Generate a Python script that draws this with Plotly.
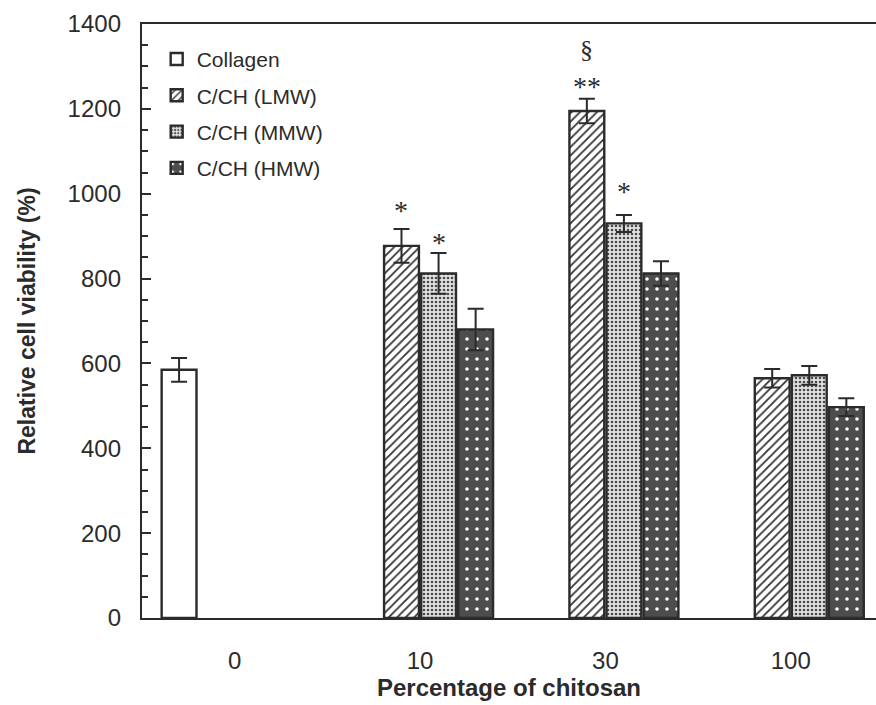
import plotly.graph_objects as go

# ---- data ----
categories = ["0", "10", "30", "100"]
collagen = [585, None, None, None]
collagen_err = [28, None, None, None]
lmw = [None, 877, 1195, 565]
lmw_err = [None, 40, 29, 22]
mmw = [None, 812, 930, 572]
mmw_err = [None, 48, 20, 22]
hmw = [None, 680, 812, 497]
hmw_err = [None, 49, 29, 21]

# significance marks: (category, series, text, height in y units)
sig_cat = ["10", "10", "30", "30", "30"]
sig_series = ["LMW", "MMW", "LMW", "LMW", "MMW"]
sig_text = ["*", "*", "**", "§", "*"]
sig_y = [960, 884, 1252, 1339, 1005]

ink = "#2b2b2b"
line_w = 2.4

fig = go.Figure()

def add_bar(name, vals, errs, pattern, color="white"):
    fig.add_trace(go.Bar(
        name=name, x=categories, y=vals,
        error_y=dict(type="data", array=errs, visible=True, color=ink,
                     thickness=2, width=8),
        marker=dict(color=color, line=dict(color=ink, width=line_w),
                    pattern=pattern),
        legendgroup=name,
    ))

add_bar("Collagen", collagen, collagen_err, None)
add_bar("C/CH (LMW)", lmw, lmw_err,
        dict(shape="/", fgcolor="#333333", bgcolor="white", size=6, solidity=0.3,
             fillmode="replace"))
add_bar("C/CH (MMW)", mmw, mmw_err,
        dict(shape=".", fgcolor="#4a4a4a", bgcolor="#e2e2e2", size=4, solidity=0.35,
             fillmode="replace"))
add_bar("C/CH (HMW)", hmw, hmw_err,
        dict(shape=".", fgcolor="white", bgcolor="#4d4d4d", size=10, solidity=0.1,
             fillmode="replace"))

slot = {"Collagen": -0.3, "LMW": -0.1, "MMW": 0.1, "HMW": 0.3}
for c, s, t, yv in zip(sig_cat, sig_series, sig_text, sig_y):
    fig.add_annotation(
        x=categories.index(c) + slot[s], y=yv, xref="x", yref="y",
        text=t, showarrow=False, yanchor="middle",
        font=dict(family="Liberation Serif", size=28 if t != "§" else 26, color=ink),
    )

fig.update_layout(
    width=876, height=705,
    margin=dict(l=142, r=0, t=24, b=87),
    paper_bgcolor="white", plot_bgcolor="white",
    barmode="group", bargap=0.2, bargroupgap=0.06,
    font=dict(family="Liberation Sans, Arial", color=ink),
    showlegend=True,
    legend=dict(x=0.02, y=0.975, xanchor="left", yanchor="top",
                bgcolor="rgba(0,0,0,0)", font=dict(size=21, color=ink),
                traceorder="grouped", tracegroupgap=6),
    xaxis=dict(
        type="category", range=[-0.5, 3.46],
        showline=True, linecolor=ink, linewidth=line_w, mirror=True,
        ticks="", tickfont=dict(size=24, color=ink), ticklabelstandoff=20,
        title=dict(text="<b>Percentage of chitosan</b>", font=dict(size=24, color=ink),
                   standoff=2),
        showgrid=False, zeroline=False,
    ),
    yaxis=dict(
        range=[0, 1400], tickmode="linear", tick0=0, dtick=200,
        showline=True, linecolor=ink, linewidth=line_w,
        ticks="inside", ticklen=9, tickwidth=2, tickcolor=ink,
        minor=dict(dtick=50, ticks="inside", ticklen=6, tickwidth=2, tickcolor=ink),
        tickfont=dict(size=24, color=ink), ticklabelstandoff=14,
        title=dict(text="<b>Relative cell viability (%)</b>", font=dict(size=23, color=ink),
                   standoff=26),
        showgrid=False, zeroline=False,
    ),
)

fig.write_html("out.html")
